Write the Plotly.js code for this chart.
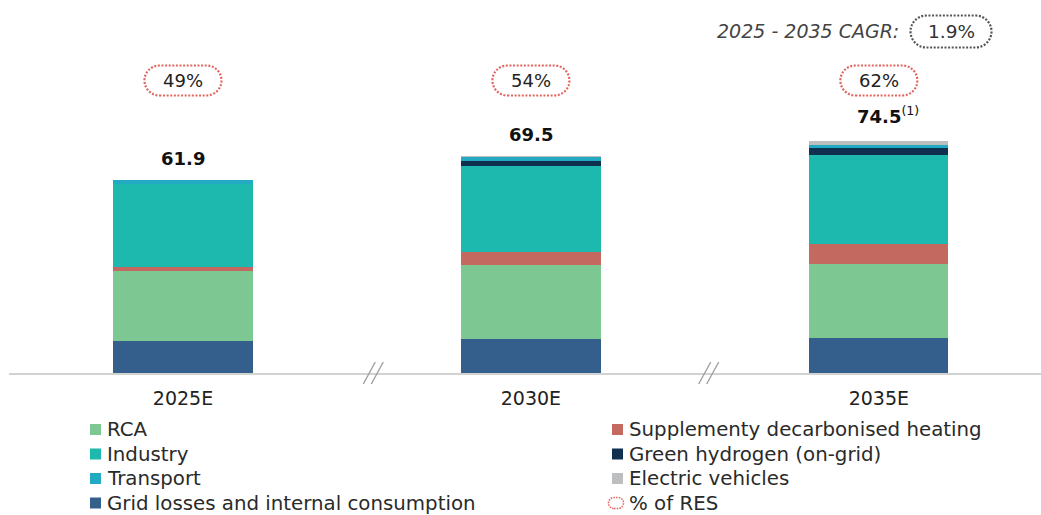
<!DOCTYPE html>
<html>
<head>
<meta charset="utf-8">
<script src="https://cdn.plot.ly/plotly-3.0.1.min.js"></script>
<style>
  html, body { margin: 0; padding: 0; background: #ffffff; }
  #chart { width: 1041px; height: 515px; }
</style>
</head>
<body>
<div id="chart"></div>
<script>
// ---------- data ----------
const categories = ['2025E', '2030E', '2035E'];
const gridLosses = [10.4, 11.0, 11.2];
const rca        = [22.2, 23.6, 23.9];
const heating    = [1.4, 4.2, 6.2];
const industry   = [26.6, 27.6, 28.7];
const hydrogen   = [0.0, 1.6, 2.1];
const transport  = [1.3, 1.2, 1.1];
const evehicles  = [0.0, 0.3, 1.3];
const totals     = ['61.9', '69.5', '74.5'];
const totalNotes = ['', '', '(1)'];
const resShare   = ['49%', '54%', '62%'];
const cagrLabel  = '2025 - 2035 CAGR:';
const cagrValue  = '1.9%';

const seriesNames = ['Grid losses and internal consumption', 'RCA', 'Supplementy decarbonised heating',
                     'Industry', 'Green hydrogen (on-grid)', 'Transport', 'Electric vehicles'];
const seriesValues = [gridLosses, rca, heating, industry, hydrogen, transport, evehicles];
const seriesColors = ['#345E8B', '#7DC793', '#C4695F', '#1EB9AE', '#10304F', '#22AAC2', '#BDBEC0'];

// ---------- geometry ----------
const W = 1041, H = 515;
const M = {l: 9, r: 0, t: 10, b: 142};
const PW = W - M.l - M.r, PH = H - M.t - M.b;
const px = x => (x - M.l) / PW;          // pixel -> paper x
const py = y => (H - M.b - y) / PH;      // pixel -> paper y

const traces = seriesNames.map((name, i) => ({
  type: 'bar',
  name: name,
  x: categories,
  y: seriesValues[i],
  marker: {color: seriesColors[i], line: {width: 0}},
  hoverinfo: 'x+y+name',
  showlegend: false
}));

const FONT = '"DejaVu Sans", Roboto, Arial, sans-serif';
const annotations = [];
const shapes = [];

// totals above bars
categories.forEach((c, i) => {
  const total = seriesValues.reduce((s, arr) => s + arr[i], 0);
  annotations.push({
    x: c, y: total, xref: 'x', yref: 'y', xanchor: 'center',
    text: '<b>' + totals[i] + '</b>' + (totalNotes[i] ? '<sup>' + totalNotes[i] + '</sup>' : ''),
    showarrow: false, yanchor: 'middle', yshift: totalNotes[i] ? 26 : 22,
    xshift: totalNotes[i] ? 9 : 0,
    font: {family: FONT, size: 18, color: '#111111'}
  });
});

// stadium path centered at 0,0
function stadium(w, h) {
  const r = h / 2, k = 0.5523 * r, a = w / 2 - r;
  return `M ${-a},${-r} L ${a},${-r} C ${a + k},${-r} ${a + r},${-k} ${a + r},0 ` +
         `C ${a + r},${k} ${a + k},${r} ${a},${r} L ${-a},${r} ` +
         `C ${-a - k},${r} ${-a - r},${k} ${-a - r},0 C ${-a - r},${-k} ${-a - k},${-r} ${-a},${-r} Z`;
}

// % of RES ovals
categories.forEach((c, i) => {
  shapes.push({
    type: 'path', xref: 'x', yref: 'paper', xsizemode: 'pixel', ysizemode: 'pixel',
    xanchor: i, yanchor: py(80.5), path: stadium(77, 30),
    line: {color: '#E0675F', width: 2.2, dash: '2px,1.6px'}, fillcolor: 'rgba(0,0,0,0)'
  });
  annotations.push({
    x: c, y: py(80.5), xref: 'x', yref: 'paper', xanchor: 'center', text: resShare[i], showarrow: false,
    yanchor: 'middle', font: {family: FONT, size: 18, color: '#222222'}
  });
});

// CAGR
annotations.push({
  x: px(901), y: py(31), xref: 'paper', yref: 'paper', xanchor: 'right', yanchor: 'middle',
  text: '<i>' + cagrLabel + '</i>', showarrow: false,
  font: {family: FONT, size: 19, color: '#444444'}
});
shapes.push({
  type: 'path', xref: 'paper', yref: 'paper', xsizemode: 'pixel', ysizemode: 'pixel',
  xanchor: px(951), yanchor: py(31.5), path: stadium(81, 32),
  line: {color: '#555555', width: 2.2, dash: '2px,1.6px'}, fillcolor: 'rgba(0,0,0,0)'
});
annotations.push({
  x: px(951), y: py(31.5), xref: 'paper', yref: 'paper', xanchor: 'center', text: cagrValue, showarrow: false,
  yanchor: 'middle', font: {family: FONT, size: 18.5, color: '#333333'}
});

// axis break marks "//"
[0.547, 1.511].forEach(xv => {
  [-4, 4].forEach(dx => {
    shapes.push({
      type: 'path', xref: 'x', yref: 'paper', xsizemode: 'pixel', ysizemode: 'pixel',
      xanchor: xv, yanchor: 0, path: `M ${dx - 6},-11 L ${dx + 6},11`,
      line: {color: '#a0a0a0', width: 1.4}
    });
  });
});

// manual legend (two columns)
const legendLeft  = [1, 3, 5, 0];   // RCA, Industry, Transport, Grid
const legendRight = [2, 4, 6];      // Heating, Hydrogen, EV
const rowsY = [429.5, 454, 478.5, 503];
function legendItem(idx, colX, rowY) {
  shapes.push({
    type: 'rect', xref: 'paper', yref: 'paper',
    x0: px(colX), x1: px(colX + 11), y0: py(rowY + 5.5), y1: py(rowY - 5.5),
    fillcolor: seriesColors[idx], line: {width: 0}
  });
  annotations.push({
    x: px(colX + 15), y: py(rowY), xref: 'paper', yref: 'paper', xanchor: 'left', yanchor: 'middle',
    text: seriesNames[idx], showarrow: false, font: {family: FONT, size: 19.8, color: '#2a2a2a'}
  });
}
legendLeft.forEach((idx, r) => legendItem(idx, 90, rowsY[r]));
legendRight.forEach((idx, r) => legendItem(idx, 612, rowsY[r]));
shapes.push({
  type: 'path', xref: 'paper', yref: 'paper', xsizemode: 'pixel', ysizemode: 'pixel',
  xanchor: px(616), yanchor: py(rowsY[3]), path: stadium(15, 11),
  line: {color: '#E0675F', width: 1.6, dash: '1.5px,1.2px'}, fillcolor: 'rgba(0,0,0,0)'
});
annotations.push({
  x: px(627), y: py(rowsY[3]), xref: 'paper', yref: 'paper', xanchor: 'left', yanchor: 'middle',
  text: '% of RES', showarrow: false, font: {family: FONT, size: 19.8, color: '#2a2a2a'}
});

const layout = {
  width: W, height: H,
  margin: M,
  paper_bgcolor: '#ffffff', plot_bgcolor: '#ffffff',
  barmode: 'stack', bargap: 0.6,
  showlegend: false,
  font: {family: FONT, color: '#222222'},
  xaxis: {
    type: 'category', range: [-0.5, 2.466], fixedrange: true,
    showline: true, linecolor: '#d2d2d2', linewidth: 1.5,
    ticks: '', showgrid: false, zeroline: false,
    tickfont: {family: FONT, size: 19, color: '#222222'},
    ticklabelstandoff: 8
  },
  yaxis: {range: [0, PH / 3.118], visible: false, fixedrange: true, showgrid: false, zeroline: false},
  annotations: annotations,
  shapes: shapes
};

Plotly.newPlot('chart', traces, layout, {displayModeBar: false, staticPlot: true});
</script>
</body>
</html>
